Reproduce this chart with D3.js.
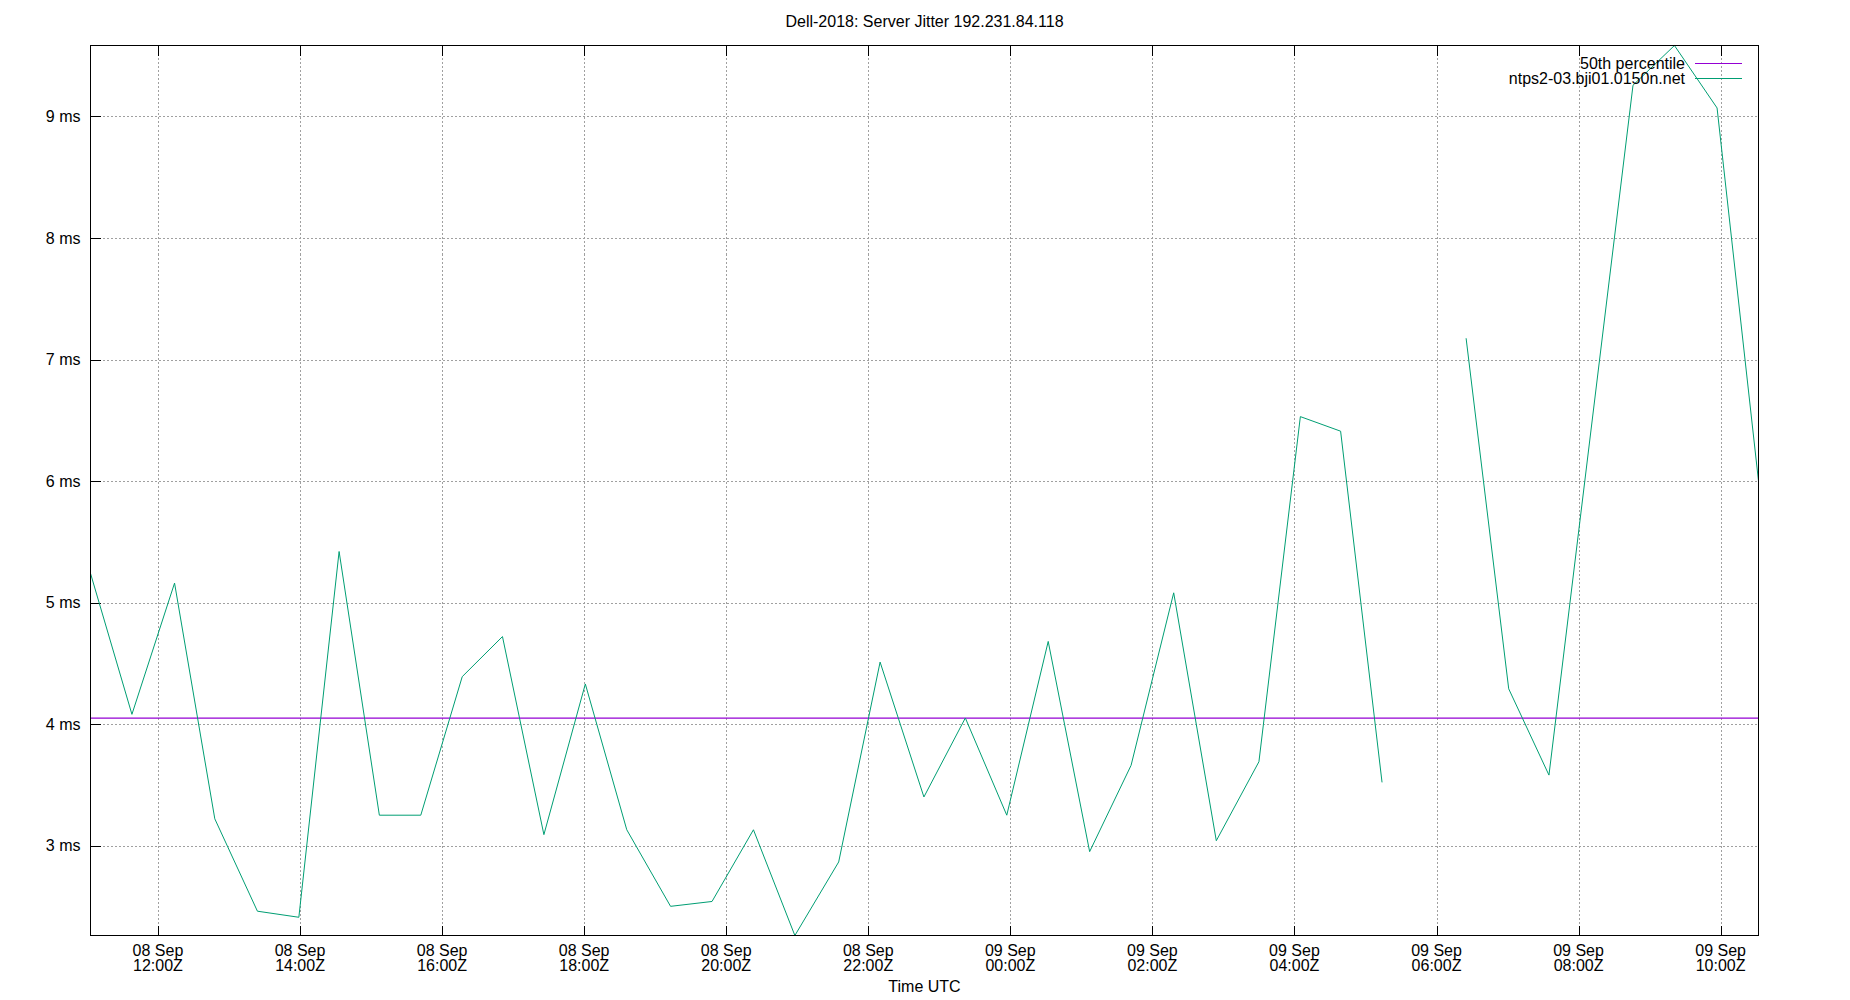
<!DOCTYPE html>
<head>
<meta charset="utf-8">
<title>Dell-2018: Server Jitter 192.231.84.118</title>
<script src="https://cdn.jsdelivr.net/npm/d3@7"></script>
<style>
body { margin: 0; background: #fff; }
text { font-family: "Liberation Sans", Arial, sans-serif; font-size: 16px; fill: #000; }
.grid line { stroke: #a0a0a0; stroke-width: 1; stroke-dasharray: 2,2; shape-rendering: crispEdges; }
.axis line { stroke: #000; shape-rendering: crispEdges; }
</style>
</head>
<body>
<script>
// sample times (UTC) and jitter values in ms
var times = [
  "2018-09-08 11:03", "2018-09-08 11:38", "2018-09-08 12:14", "2018-09-08 12:48",
  "2018-09-08 13:24", "2018-09-08 13:59", "2018-09-08 14:33", "2018-09-08 15:07",
  "2018-09-08 15:42", "2018-09-08 16:17", "2018-09-08 16:51", "2018-09-08 17:26",
  "2018-09-08 18:01", "2018-09-08 18:36", "2018-09-08 19:13", "2018-09-08 19:48",
  "2018-09-08 20:23", "2018-09-08 20:58", "2018-09-08 21:35", "2018-09-08 22:10",
  "2018-09-08 22:47", "2018-09-08 23:22", "2018-09-08 23:57", "2018-09-09 00:32",
  "2018-09-09 01:07", "2018-09-09 01:42", "2018-09-09 02:18", "2018-09-09 02:54",
  "2018-09-09 03:30", "2018-09-09 04:05", "2018-09-09 04:39", "2018-09-09 05:14",
  "2018-09-09 05:50", "2018-09-09 06:25", "2018-09-09 07:01", "2018-09-09 07:35",
  "2018-09-09 08:46", "2018-09-09 09:21", "2018-09-09 09:57", "2018-09-09 10:32"
];
var jitter = [
  5.24, 4.08, 5.16, 3.22,
  2.46, 2.41, 5.42, 3.25,
  3.25, 4.39, 4.72, 3.09,
  4.33, 3.13, 2.50, 2.54,
  3.13, 2.26, 2.865, 4.51,
  3.40, 4.05, 3.25, 4.68,
  2.95, 3.66, 5.08, 3.04,
  3.69, 6.53, 6.41, 3.52,
  null, 7.175, 4.29, 3.58,
  9.257, 9.584, 9.07, 6.00
];
var percentile50 = 4.049;

var yTicks = [3, 4, 5, 6, 7, 8, 9];
var titleText = "Dell-2018: Server Jitter 192.231.84.118";
var serverName = "ntps2-03.bji01.0150n.net";
var xLabel = "Time UTC";

var width = 1850, height = 1000;
// plot box (note: "top" is reserved on window, so use other names)
var plotL = 90.5, plotR = 1758.5, plotT = 45.5, plotB = 935.5;

var parseTime = d3.utcParse("%Y-%m-%d %H:%M");
var data = times.map(function(t, i) { return { time: parseTime(t), value: jitter[i] }; });

var x = d3.scaleUtc()
  .domain(d3.extent(data, function(d) { return d.time; }))
  .range([plotL, plotR]);
var y = d3.scaleLinear()
  .domain(d3.extent(jitter.filter(function(v) { return v != null; })))
  .range([plotB, plotT]);

var svg = d3.select("body").append("svg")
  .attr("width", width)
  .attr("height", height);

var xTicks = x.ticks(d3.utcHour.every(2));

// grid
var grid = svg.append("g").attr("class", "grid");
grid.selectAll(".gy").data(yTicks).enter().append("line")
  .attr("x1", plotL).attr("x2", plotR)
  .attr("y1", function(d) { return Math.round(y(d)) + 0.5; })
  .attr("y2", function(d) { return Math.round(y(d)) + 0.5; });
grid.selectAll(".gx").data(xTicks).enter().append("line")
  .attr("y1", plotT).attr("y2", plotB)
  .attr("x1", function(d) { return Math.round(x(d)) + 0.5; })
  .attr("x2", function(d) { return Math.round(x(d)) + 0.5; });

// y axis: inward ticks on the left only
var yAxis = svg.append("g").attr("class", "axis")
  .attr("transform", "translate(" + plotL + ",0)")
  .call(d3.axisLeft(y).tickValues(yTicks).tickSize(-10).tickPadding(10)
    .tickFormat(function(d) { return d + " ms"; }));
yAxis.select(".domain").remove();
yAxis.selectAll("text").style("font-size", "16px").style("font-family", null).attr("fill", "#000");

// x axis: inward ticks bottom and top
var xb = svg.append("g").attr("class", "axis");
xb.selectAll(".tb").data(xTicks).enter().append("line")
  .attr("x1", function(d) { return Math.round(x(d)) + 0.5; })
  .attr("x2", function(d) { return Math.round(x(d)) + 0.5; })
  .attr("y1", plotB).attr("y2", plotB - 10);
xb.selectAll(".tt").data(xTicks).enter().append("line")
  .attr("x1", function(d) { return Math.round(x(d)) + 0.5; })
  .attr("x2", function(d) { return Math.round(x(d)) + 0.5; })
  .attr("y1", plotT).attr("y2", plotT + 10);

var dayFmt = d3.utcFormat("%d %b"), hourFmt = d3.utcFormat("%H:%MZ");
var lbl = xb.selectAll(".xl").data(xTicks).enter().append("text")
  .attr("text-anchor", "middle");
lbl.append("tspan")
  .attr("x", function(d) { return x(d); })
  .attr("y", 956)
  .text(function(d) { return dayFmt(d); });
lbl.append("tspan")
  .attr("x", function(d) { return x(d); })
  .attr("y", 970.5)
  .text(function(d) { return hourFmt(d); });

// median line
svg.append("line")
  .attr("x1", plotL).attr("x2", plotR)
  .attr("y1", y(percentile50)).attr("y2", y(percentile50))
  .attr("stroke", "#9400d3")
  .attr("stroke-width", 1.2);

// jitter line, broken where a sample is missing
var line = d3.line()
  .defined(function(d) { return d.value != null; })
  .x(function(d) { return x(d.time); })
  .y(function(d) { return y(d.value); });
svg.append("path")
  .datum(data)
  .attr("d", line)
  .attr("fill", "none")
  .attr("stroke", "#009e73")
  .attr("stroke-width", 1);

// border
svg.append("rect")
  .attr("x", plotL).attr("y", plotT)
  .attr("width", plotR - plotL).attr("height", plotB - plotT)
  .attr("fill", "none")
  .attr("stroke", "#000")
  .attr("stroke-width", 1)
  .style("shape-rendering", "crispEdges");

// legend
var legend = [
  { name: "50th percentile", color: "#9400d3" },
  { name: serverName, color: "#009e73" }
];
var lg = svg.selectAll(".legend").data(legend).enter().append("g")
  .attr("transform", function(d, i) { return "translate(0," + (63.5 + i * 15) + ")"; });
lg.append("text")
  .attr("x", 1685).attr("dy", "0.33em")
  .attr("text-anchor", "end")
  .text(function(d) { return d.name; });
lg.append("line")
  .attr("x1", 1695).attr("x2", 1742)
  .attr("stroke", function(d) { return d.color; })
  .attr("stroke-width", 1.2);

// title and axis label
svg.append("text")
  .attr("x", (plotL + plotR) / 2).attr("y", 27)
  .attr("text-anchor", "middle")
  .text(titleText);
svg.append("text")
  .attr("x", (plotL + plotR) / 2).attr("y", 992)
  .attr("text-anchor", "middle")
  .text(xLabel);
</script>
</body>
